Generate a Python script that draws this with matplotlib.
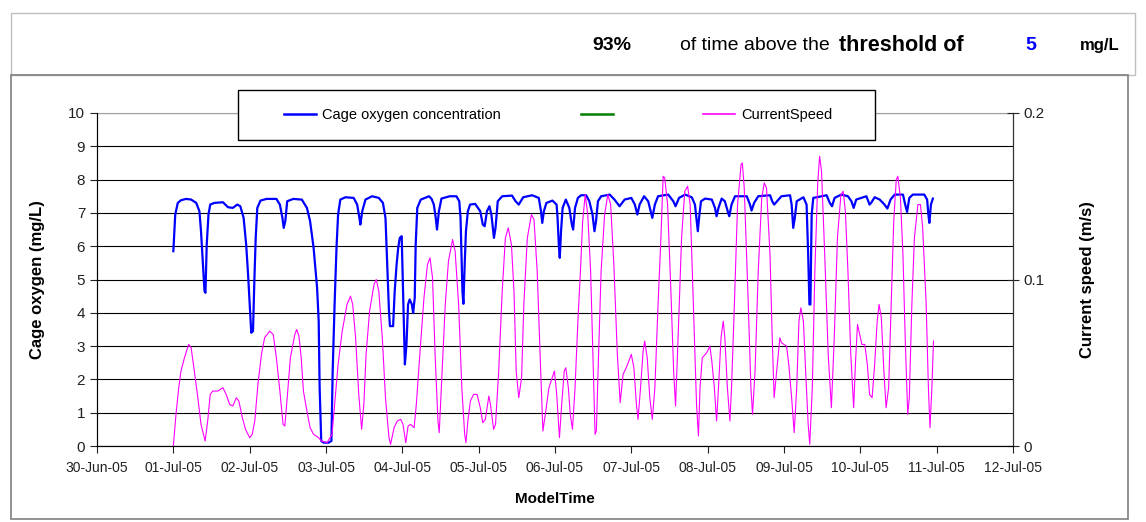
#!/usr/bin/env python3
"""Cage oxygen and current speed, 01-10 Jul 2005."""
import numpy as np
import matplotlib
matplotlib.use("Agg")
import matplotlib.pyplot as plt
import matplotlib.dates as mdates
from matplotlib.lines import Line2D
from matplotlib.patches import Rectangle

plt.rcParams["font.family"] = ["Liberation Sans", "DejaVu Sans"]

START = np.datetime64("2005-07-01T00:00")

# hours since 01-Jul-05 00:00, oxygen in mg/L
oxy_hours = [
    0, 0.6, 1.4, 2.4, 4, 5.6, 7.2, 8.2, 8.7, 9.3, 9.8, 10.1, 10.5, 11.05, 11.6,
    12.9, 15.6, 17.2, 18.7, 20.1, 21.05, 22.1, 22.9, 23.5, 24, 24.5, 25.05,
    25.5, 25.9, 26.4, 27.4, 29.3, 32.4, 33.5, 34.3, 34.7, 35.2, 35.8, 37.7,
    40.4, 42, 43, 44.1, 45.2, 45.7, 46, 46.5, 47.3, 48.8, 49.7, 50.1, 50.7,
    51.3, 51.8, 52.5, 54.1, 56.7, 57.8, 58.5, 58.8, 59.4, 60.4, 62.5, 64.6,
    65.9, 66.7, 67.3, 67.8, 68.1, 69.1, 69.6, 70.2, 70.7, 71.2, 71.8, 72.2,
    72.8, 73.3, 73.8, 74.3, 75, 75.4, 75.9, 76.2, 76.7, 77.8, 80.4, 81.2,
    81.9, 82.5, 82.9, 83.5, 84.3, 86.9, 89, 89.9, 90.3, 90.6, 90.9, 91.2,
    91.6, 92.0, 92.6, 93.3, 94.9, 96.5, 97.3, 97.9, 98.6, 99.4, 100, 100.8,
    101.3, 102, 103.4, 106.5, 107.6, 108.6, 110, 112.8, 114.9, 115.6, 116,
    116.5, 117.3, 119.2, 120.5, 120.8, 121.2, 121.5, 121.9, 122.4, 123.4,
    124.5, 125.3, 125.7, 126.3, 127.2, 128.2, 129.8, 130.8, 131.8, 132.4,
    132.9, 133.5, 134.5, 137.2, 138.7, 140.3, 141.9, 144, 145.1, 145.9,
    146.6, 148, 149.3, 150.1, 150.6, 151.4, 152.4, 155.6, 157.2, 157.9, 159,
    160.9, 163, 164, 164.5, 164.9, 165.3, 165.9, 167.2, 169.3, 170.3, 170.8,
    171.4, 172.4, 173.4, 174.3, 174.8, 175.5, 176.6, 180.3, 181.3, 181.8,
    182.6, 183.9, 187.6, 188.3, 188.9, 190, 191.2, 193.9, 194.4, 194.9,
    195.4, 196, 198.1, 199.1, 199.6, 200, 200.3, 200.7, 201.2, 205.4, 206.4,
    207.1, 207.9, 210, 212.1, 213.2, 213.9, 214.7, 216.3, 217.9, 218.9,
    219.4, 220.5, 222.1, 223.6, 224.5, 225.5, 226.8, 229.4, 230.1, 230.7,
    231.4, 232.5, 236.1, 237, 237.4, 237.7, 238.2, 238.8,
]
oxygen = [
    5.85, 6.95, 7.3, 7.38, 7.42, 7.4, 7.3, 7.05, 6.45, 5.45, 4.65, 4.6, 6.05,
    6.95, 7.25, 7.3, 7.32, 7.17, 7.15, 7.25, 7.2, 6.85, 6.05, 5.15, 4.25,
    3.4, 3.45, 5.05, 6.25, 7.15, 7.37, 7.42, 7.42, 7.25, 6.85, 6.55, 6.75,
    7.35, 7.42, 7.4, 7.15, 6.75, 5.95, 4.75, 3.75, 1.75, 0.15, 0.1, 0.1,
    0.15, 2.25, 4.25, 5.95, 6.95, 7.4, 7.47, 7.45, 7.25, 6.85, 6.65, 7.05,
    7.4, 7.5, 7.45, 7.3, 6.85, 5.35, 4.05, 3.6, 3.6, 4.65, 5.45, 5.95, 6.25,
    6.3, 4.75, 2.45, 3.05, 4.25, 4.4, 4.25, 4.0, 4.45, 6.05, 7.15, 7.4, 7.5,
    7.42, 7.25, 6.85, 6.5, 7.05, 7.43, 7.5, 7.5, 7.35, 6.85, 5.75, 4.65,
    4.27, 5.45, 6.45, 7.05, 7.25, 7.27, 7.05, 6.65, 6.6, 7.05, 7.2, 6.95,
    6.25, 6.55, 7.35, 7.5, 7.52, 7.35, 7.25, 7.47, 7.53, 7.45, 7.05, 6.7,
    7.05, 7.3, 7.37, 7.25, 6.85, 6.05, 5.65, 6.45, 7.15, 7.4, 7.15, 6.65,
    6.5, 7.15, 7.45, 7.53, 7.53, 7.35, 6.95, 6.45, 6.75, 7.35, 7.5, 7.55,
    7.4, 7.2, 7.4, 7.45, 7.25, 6.95, 7.25, 7.5, 7.35, 7.05, 6.85, 7.25, 7.5,
    7.55, 7.35, 7.2, 7.45, 7.55, 7.47, 7.25, 6.8, 6.45, 6.85, 7.35, 7.43,
    7.4, 7.15, 6.9, 7.15, 7.43, 7.35, 7.05, 6.9, 7.25, 7.5, 7.5, 7.25, 7.07,
    7.3, 7.5, 7.53, 7.35, 7.25, 7.37, 7.5, 7.53, 7.25, 6.55, 6.85, 7.35,
    7.47, 7.25, 5.75, 4.25, 4.25, 6.95, 7.45, 7.53, 7.3, 7.2, 7.45, 7.55,
    7.5, 7.35, 7.15, 7.4, 7.45, 7.5, 7.25, 7.3, 7.47, 7.4, 7.25, 7.13, 7.4,
    7.55, 7.55, 7.25, 7.03, 7.45, 7.55, 7.55, 7.4, 6.95, 6.7, 7.25, 7.43,
]

# hours since 01-Jul-05 00:00, current speed in m/s
cur_hours = [
    0, 0.84, 1.7, 2.4, 3.5, 4.8, 5.6, 6.6, 7.7, 8.7, 10, 10.8, 11.6, 12.4,
    14, 15.6, 16.6, 17.7, 18.7, 19.8, 20.6, 21.7, 22.7, 24, 24.8, 25.6, 26.6,
    27.7, 28.7, 30.3, 31.4, 32.4, 33.5, 34.5, 35.05, 35.8, 36.8, 38.2, 38.8,
    39.5, 40.2, 40.9, 42, 43, 44.1, 45.7, 46.5, 48.3, 49.9, 50.7, 51.8, 53.1,
    54.6, 55.7, 56.4, 57.3, 58.3, 59.2, 59.9, 60.6, 61.7, 63.1, 63.8, 64.6,
    65.7, 66.7, 67.8, 68.3, 69.4, 70.4, 71.5, 72.2, 73.1, 73.8, 74.6, 75.7,
    76.4, 77.5, 78.8, 79.9, 80.7, 81.5, 82.3, 83.2, 83.6, 84.5, 85.5, 86.5,
    87.8, 88.6, 89.7, 90.7, 91.6, 92, 92.6, 93.4, 94.4, 95.5, 96.5, 97.3,
    98.1, 99.2, 99.7, 100.7, 101.3, 102.3, 103.4, 104.4, 105.3, 106.3,
    107.1, 107.8, 108.6, 109.5, 110.2, 111.3, 112.6, 113.4, 114.4, 115.5,
    116.2, 117.1, 118.1, 119.8, 120.5, 121.4, 122.1, 122.9, 123.4, 124.2,
    124.8, 125.5, 126.3, 127.2, 128, 128.7, 129.5, 130.3, 131.2, 131.9,
    132.6, 133, 133.7, 134.5, 135.6, 136.6, 137.5, 138.5, 139.6, 140.5,
    141.4, 142.4, 144, 144.8, 145.6, 146.1, 146.9, 147.7, 148.2, 149, 149.8,
    150.6, 151.4, 152.4, 153.3, 154, 154.5, 155.4, 156.4, 157.3, 157.9,
    158.7, 159.8, 160.8, 161.7, 162.5, 163.5, 164.5, 165.1, 165.6, 166.3,
    167.7, 168.7, 169.3, 170.1, 170.8, 171.4, 172.2, 172.9, 173.4, 174.2,
    175, 175.5, 176.4, 177.4, 178.5, 178.9, 179.5, 180.6, 181.6, 182.1,
    182.9, 183.9, 185, 185.8, 186.5, 187.6, 188.3, 188.9, 189.7, 190.7,
    191.2, 192, 192.8, 193.5, 194.4, 195.2, 196, 196.7, 197.3, 198.1, 198.8,
    199.6, 200.1, 200.9, 201.7, 202.6, 203.2, 203.8, 204.8, 205.9, 206.9,
    207.8, 208.8, 209.9, 210.6, 211.3, 212.1, 213, 213.9, 214.5, 215.1,
    215.8, 216.5, 217.4, 218.2, 218.9, 219.7, 220.5, 221.3, 221.9, 222.6,
    223.4, 224.1, 224.9, 225.7, 226.5, 227.3, 227.8, 228.6, 229.4, 230.1,
    230.9, 231.4, 232.2, 233, 234.1, 234.9, 235.6, 236.7, 237.4, 237.9,
    238.5, 239,
]
current = [
    0.0, 0.019, 0.035, 0.045, 0.053, 0.061, 0.059, 0.045, 0.029, 0.013,
    0.003, 0.015, 0.031, 0.033, 0.033, 0.035, 0.031, 0.025, 0.024, 0.029,
    0.027, 0.017, 0.010, 0.005, 0.007, 0.015, 0.037, 0.055, 0.065, 0.069,
    0.067, 0.053, 0.033, 0.013, 0.012, 0.029, 0.053, 0.067, 0.070, 0.066,
    0.053, 0.033, 0.021, 0.011, 0.007, 0.005, 0.003, 0.002, 0.007, 0.025,
    0.049, 0.069, 0.085, 0.090, 0.085, 0.065, 0.031, 0.010, 0.025, 0.055,
    0.081, 0.097, 0.100, 0.093, 0.065, 0.029, 0.005, 0.001, 0.011, 0.015,
    0.016, 0.013, 0.002, 0.012, 0.013, 0.011, 0.025, 0.055, 0.089, 0.109,
    0.113, 0.101, 0.055, 0.015, 0.008, 0.045, 0.085, 0.111, 0.124, 0.117,
    0.085, 0.035, 0.007, 0.002, 0.015, 0.027, 0.031, 0.031, 0.023, 0.014,
    0.016, 0.030, 0.025, 0.010, 0.013, 0.045, 0.093, 0.125, 0.131, 0.121,
    0.093, 0.045, 0.029, 0.041, 0.085, 0.125, 0.139, 0.136, 0.105, 0.045,
    0.009, 0.021, 0.035, 0.045, 0.032, 0.005, 0.025, 0.045, 0.047, 0.035,
    0.019, 0.010, 0.035, 0.075, 0.105, 0.135, 0.151, 0.139, 0.105, 0.055,
    0.007, 0.009, 0.055, 0.105, 0.139, 0.151, 0.145, 0.109, 0.055, 0.026,
    0.043, 0.047, 0.055, 0.047, 0.025, 0.016, 0.035, 0.057, 0.063, 0.053,
    0.029, 0.016, 0.035, 0.085, 0.125, 0.162, 0.161, 0.145, 0.095, 0.045,
    0.024, 0.065, 0.125, 0.153, 0.156, 0.145, 0.085, 0.025, 0.006, 0.035,
    0.053, 0.056, 0.060, 0.051, 0.035, 0.015, 0.035, 0.065, 0.075, 0.065,
    0.035, 0.015, 0.035, 0.085, 0.145, 0.169, 0.170, 0.155, 0.095, 0.035,
    0.019, 0.045, 0.105, 0.149, 0.158, 0.155, 0.115, 0.065, 0.029, 0.045,
    0.065, 0.062, 0.061, 0.060, 0.049, 0.029, 0.008, 0.035, 0.075, 0.083,
    0.075, 0.045, 0.013, 0.001, 0.035, 0.105, 0.158, 0.174, 0.165, 0.115,
    0.055, 0.023, 0.065, 0.125, 0.151, 0.153, 0.141, 0.105, 0.055, 0.023,
    0.051, 0.073, 0.067, 0.061, 0.061, 0.049, 0.031, 0.029, 0.049, 0.075,
    0.085, 0.077, 0.045, 0.023, 0.035, 0.085, 0.135, 0.160, 0.162, 0.149,
    0.115, 0.065, 0.019, 0.029, 0.085, 0.125, 0.145, 0.145, 0.131, 0.085,
    0.035, 0.011, 0.035, 0.063,
]

pct_above = 93
threshold = 5


def to_time(hours):
    mins = np.round(np.asarray(hours) * 60).astype("timedelta64[m]")
    return START + mins


W, H = 1146, 522
fig = plt.figure(figsize=(W / 100, H / 100), dpi=100)


def fx(x):
    return x / W


def fy(y):
    return 1 - y / H


# outer frames
fig.patches.append(Rectangle((fx(11), fy(75)), fx(1135 - 11), fy(13) - fy(75),
                             transform=fig.transFigure, fill=False,
                             edgecolor="#c0c0c0", lw=1))
fig.patches.append(Rectangle((fx(11), fy(519)), fx(1128 - 11), fy(75) - fy(519),
                             transform=fig.transFigure, fill=False,
                             edgecolor="#808080", lw=1.2))

# header line
ty = fy(45)
fig.text(fx(592), ty, f"{pct_above}%", fontsize=14, fontweight="bold", va="center")
fig.text(fx(680), ty, "of time above the", fontsize=14, va="center")
fig.text(fx(839), ty, "threshold of", fontsize=15.5, fontweight="bold", va="center")
fig.text(fx(1025), ty, f"{threshold}", fontsize=14, fontweight="bold",
         color="#0000ff", va="center")
fig.text(fx(1080), ty, "mg/L", fontsize=12, fontweight="bold", va="center")

ax = fig.add_axes([fx(97), fy(446), fx(1013 - 97), fy(113) - fy(446)])
ax.plot(to_time(oxy_hours), oxygen, color="#0000ff", lw=1.6)
ax.set_ylim(0, 10)
ax.set_yticks(range(0, 11))
ax.grid(axis="y", color="black", lw=0.8)
ax.set_axisbelow(True)
ax.set_xlim(np.datetime64("2005-06-30"), np.datetime64("2005-07-12"))
ax.xaxis.set_major_locator(mdates.DayLocator())
ax.xaxis.set_major_formatter(mdates.DateFormatter("%d-%b-%y"))
ax.tick_params(axis="x", labelsize=10, direction="out", length=5, pad=6,
               colors="#222222")
ax.tick_params(axis="y", labelsize=11, direction="out", length=5, colors="#222222")
ax.set_ylabel("Cage oxygen (mg/L)", fontsize=12, fontweight="bold")
ax.yaxis.set_label_coords(fx(45 - 97) / fx(1013 - 97), 0.5)
ax.set_xlabel("ModelTime", fontsize=11, fontweight="bold", labelpad=12)
for side in ("left", "bottom"):
    ax.spines[side].set_color("#333333")
ax.spines["top"].set_color("#a0a0a0")

ax2 = ax.twinx()
ax2.plot(to_time(cur_hours), current, color="#ff00ff", lw=0.8)
ax2.set_ylim(0, 0.2)
ax2.set_yticks([0, 0.1, 0.2])
ax2.set_yticklabels(["0", "0.1", "0.2"])
ax2.tick_params(axis="y", labelsize=11, direction="inout", length=8,
                colors="#222222")
ax2.set_ylabel("Current speed (m/s)", fontsize=12, fontweight="bold")
ax2.yaxis.set_label_coords(1 + fx(1080 - 1013) / fx(1013 - 97), 0.5)
ax2.spines["right"].set_color("#333333")
ax2.spines["top"].set_visible(False)

handles = [
    Line2D([], [], color="#0000ff", lw=1.8),
    Line2D([], [], color="#008000", lw=1.8),
    Line2D([], [], color="#ff00ff", lw=1.2),
]
labels = ["Cage oxygen concentration", " ", "CurrentSpeed"]
fig.patches.append(Rectangle((fx(238), fy(140)), fx(875 - 238), fy(90) - fy(140),
                             transform=fig.transFigure, facecolor="white",
                             edgecolor="black", lw=1, zorder=5))
leg = fig.legend(handles, labels, ncol=3, loc="center",
                 bbox_to_anchor=(fx(558), fy(115)), frameon=False,
                 fontsize=10.5, handlelength=2.2, handletextpad=0.4,
                 columnspacing=5.5)
leg.set_zorder(6)

fig.savefig("out.png", dpi=100)
